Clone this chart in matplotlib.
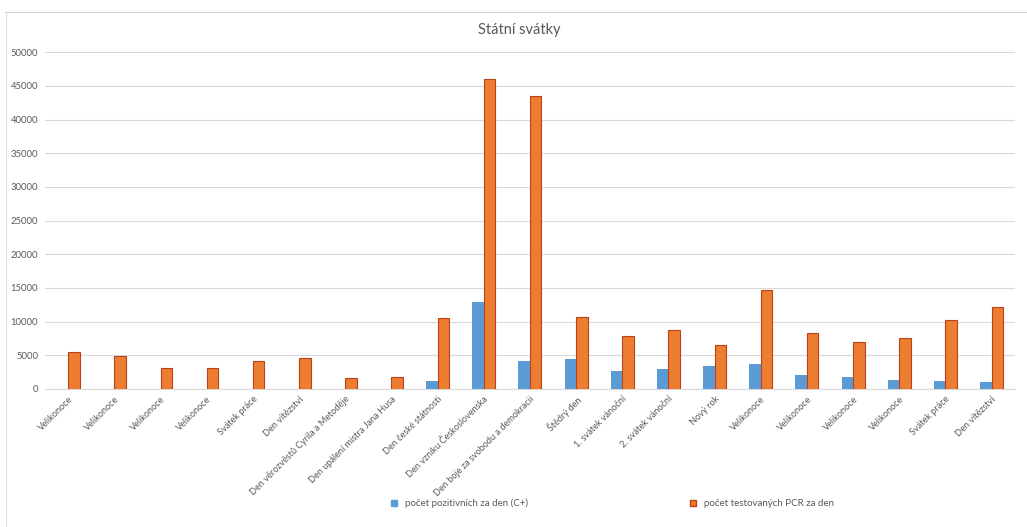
import numpy as np
import matplotlib.pyplot as plt
from matplotlib.lines import Line2D

plt.rcParams['font.family'] = ['Lato', 'DejaVu Sans']

svatky = ['Velikonoce', 'Velikonoce', 'Velikonoce', 'Velikonoce', 'Svátek práce',
          'Den vítězství', 'Den věrozvěstů Cyrila a Metoděje', 'Den upálení mistra Jana Husa',
          'Den české státnosti', 'Den vzniku Československa', 'Den boje za svobodu a demokracii',
          'Štědrý den', '1. svátek vánoční', '2. svátek vánoční', 'Nový rok', 'Velikonoce',
          'Velikonoce', 'Velikonoce', 'Velikonoce', 'Svátek práce', 'Den vítězství']

pozitivni = [0, 0, 0, 0, 0, 0, 0, 0, 1200, 12900, 4150, 4450, 2670, 2970, 3410,
             3710, 2080, 1780, 1330, 1190, 1040]
testovani = [5500, 4900, 3150, 3150, 4150, 4600, 1630, 1780, 10530, 46000, 43470,
             10680, 7860, 8750, 6530, 14700, 8300, 6970, 7570, 10240, 12170]

blue = '#5B9BD5'
orange = '#ED7D31'
gray = '#595959'

fig = plt.figure(figsize=(10.27, 5.27), dpi=100)
ax = fig.add_axes([0.044, 0.262, 0.944, 0.639])

x = np.arange(len(svatky))
w = 0.25
ax.bar(x - w / 2, pozitivni, w, color=blue, zorder=3)
ax.bar(x + w / 2, testovani, w, color=orange, edgecolor='#B8421A', linewidth=0.8, zorder=3)

ax.set_xlim(-0.5, len(svatky) - 0.5)
ax.set_ylim(0, 50000)
ax.set_yticks(np.arange(0, 50001, 5000))
ax.tick_params(axis='y', length=0, labelsize=6.8, labelcolor=gray, pad=5)
ax.tick_params(axis='x', length=0, labelsize=6.6, labelcolor=gray, pad=4)
ax.set_xticks(x)
ax.set_xticklabels(svatky, rotation=45, ha='right', rotation_mode='anchor')
ax.grid(axis='y', color='#D9D9D9', linewidth=0.8, zorder=0)
for s in ['top', 'right', 'left']:
    ax.spines[s].set_visible(False)
ax.spines['bottom'].set_color('#D9D9D9')

fig.text(0.506, 0.943, 'Státní svátky', ha='center', va='center', fontsize=10.5, color=gray)

handles = [Line2D([], [], marker='s', ls='', color=blue, markersize=4.5),
           Line2D([], [], marker='s', ls='', color=orange, markeredgecolor='#B8421A', markersize=4.5)]
fig.legend(handles, ['počet pozitivních za den (C+)', 'počet testovaných PCR za den'],
           ncol=2, loc='center left', bbox_to_anchor=(0.366, 0.045), frameon=False,
           fontsize=7, labelcolor=gray, handletextpad=0.1, columnspacing=16)

# okraje grafu (mřížka listu)
fig.add_artist(Line2D([0.005, 1], [0.977, 0.977], color='#D0D0D0', lw=0.8))
fig.add_artist(Line2D([0.006, 0.006], [0, 0.977], color='#E0E0E0', lw=0.8))

fig.savefig('out.png', dpi=100)
